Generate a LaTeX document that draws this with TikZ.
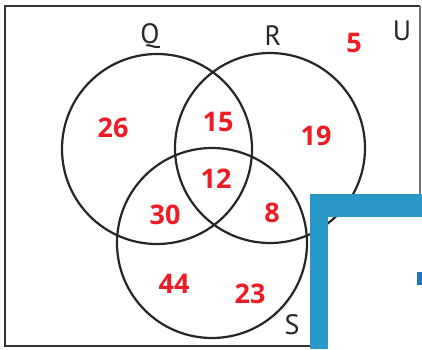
\documentclass[tikz,border=0pt]{standalone}
\usepackage{fontspec}
\setmainfont{PT Sans}
\newfontfamily\numfont{Open Sans}
\definecolor{numred}{HTML}{EE1C25}
\definecolor{barblue}{HTML}{2A98C6}
\definecolor{markblue}{HTML}{1C75BC}
\definecolor{framegray}{HTML}{333333}
\begin{document}
\begin{tikzpicture}[x=1pt,y=-1pt,
  setcircle/.style={circle,draw=black!85,line width=2.2pt,minimum size=190pt,inner sep=0pt},
  setlabel/.style={font=\fontsize{28}{28}\selectfont,text=black!85,inner sep=0pt},
  count/.style={font=\numfont\fontsize{27}{27}\selectfont\bfseries,text=numred,inner sep=0pt}]
\useasboundingbox (0,0) rectangle (422,349);
% frame
\draw[framegray,line width=2pt] (420,6) -- (5,6) -- (5,346) -- (310,346);
\draw[black!55,line width=1.2pt] (420,6) -- (420,194);
% circles
\node[setcircle] (Q) at (157,149) {};
\node[setcircle] (R) at (270,148) {};
\node[setcircle] (S) at (212,243) {};
% labels
\node[setlabel] (lq) at (150,36) {Q};
\node[setlabel] (lr) at (273,36) {R};
\node[setlabel] (lu) at (402,31) {U};
\node[setlabel] (ls) at (292,325) {S};
% counts
\node[count] (n5) at (354,43) {5};
\node[count] (n26) at (113,128) {26};
\node[count] (n15) at (218,122) {15};
\node[count] (n19) at (316,136) {19};
\node[count] (n12) at (216,179) {12};
\node[count] (n30) at (165,215) {30};
\node[count] (n8) at (272,213) {8};
\node[count] (n44) at (174,284) {44};
\node[count] (n23) at (250,294) {23};
% blue overlay
\fill[barblue] (310,194) rectangle (422,217);
\fill[barblue] (310,194) rectangle (328,349);
\fill[markblue] (417,272) rectangle (422,285);
\end{tikzpicture}
\end{document}
